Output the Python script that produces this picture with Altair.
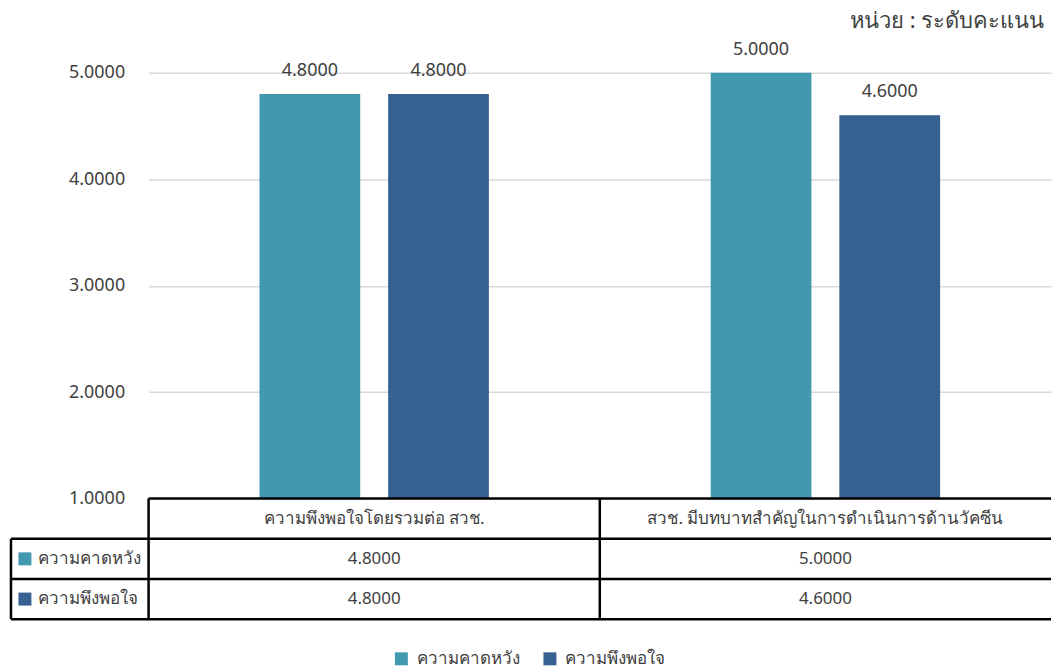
import altair as alt
import pandas as pd

categories = ["ความพึงพอใจโดยรวมต่อ สวช.", "สวช. มีบทบาทสำคัญในการดำเนินการด้านวัคซีน"]
series_names = ["ความคาดหวัง", "ความพึงพอใจ"]
expect_vals = [4.8, 5.0]
satisf_vals = [4.8, 4.6]
colors = ["#4298AE", "#36608F"]
y_ticks = [1, 2, 3, 4, 5]
unit_title = "หน่วย : ระดับคะแนน"
header_key = "หัวตาราง"

rows = []
for i, c in enumerate(categories):
    rows.append({"cat": c, "series": series_names[0], "value": expect_vals[i]})
    rows.append({"cat": c, "series": series_names[1], "value": satisf_vals[i]})
df = pd.DataFrame(rows)
df["label"] = df["value"].map(lambda v: f"{v:.4f}")
df["row"] = df["series"]

FONT = "Noto Sans"
TXT = "#404040"
W = 905
H_TOP = 427
H_TAB = 121

x_scale = alt.Scale(domain=categories, paddingInner=0, paddingOuter=0)
xo_scale = alt.Scale(domain=series_names, paddingInner=0.217, paddingOuter=0.862)
color_scale = alt.Scale(domain=series_names, range=colors)
y_scale = alt.Scale(domain=[1, 5], nice=False, zero=False)

base = alt.Chart(df)
bars = base.mark_bar().encode(
    x=alt.X("cat:N", scale=x_scale, axis=None),
    xOffset=alt.XOffset("series:N", scale=xo_scale),
    y=alt.Y("value:Q", scale=y_scale,
            axis=alt.Axis(values=y_ticks, format=".4f", domain=False, ticks=False,
                          grid=True, gridColor="#D9D9D9", gridWidth=1.5,
                          labelFontSize=18, labelColor=TXT, labelFont=FONT,
                          labelPadding=24, title=None)),
    y2=alt.datum(1),
    color=alt.Color("series:N", scale=color_scale,
                    legend=alt.Legend(title=None, orient="none", direction="horizontal",
                                      legendX=245, legendY=579,
                                      symbolType="square", symbolSize=169,
                                      symbolStrokeWidth=0, labelFontSize=17,
                                      labelFont=FONT, labelColor=TXT,
                                      labelOffset=7, columnPadding=22)),
)
labels = base.mark_text(fontSize=18, font=FONT, color=TXT, dy=-18, baseline="alphabetic").encode(
    x=alt.X("cat:N", scale=x_scale, axis=None),
    xOffset=alt.XOffset("series:N", scale=xo_scale),
    y=alt.Y("value:Q", scale=y_scale),
    text="label:N",
)
top = alt.layer(bars, labels).properties(width=W, height=H_TOP)

# ---- data table ----
row_domain = [header_key] + series_names
row_scale = alt.Scale(domain=row_domain, paddingInner=0, paddingOuter=0)
hdr_df = pd.DataFrame({"cat": categories, "row": [header_key] * len(categories), "label": categories})
cat_df = pd.DataFrame({"cat": categories})
ser_df = pd.DataFrame({"row": series_names, "series": series_names})

STROKE = 2.5
vlines = alt.Chart(cat_df).mark_rule(color="black", strokeWidth=STROKE).encode(
    x=alt.X("cat:N", scale=x_scale, axis=None, bandPosition=0),
    y=alt.value(0), y2=alt.value(H_TAB),
)
left_vline = alt.Chart(ser_df.head(1)).mark_rule(color="black", strokeWidth=STROKE).encode(
    x=alt.value(-138),
    y=alt.Y("row:N", scale=row_scale, axis=None, bandPosition=0),
    y2=alt.value(H_TAB),
)
hdr_top = alt.Chart(hdr_df.head(1)).mark_rule(color="black", strokeWidth=STROKE).encode(
    x=alt.value(0), x2=alt.value(W), y=alt.value(0),
)
row_tops = alt.Chart(ser_df).mark_rule(color="black", strokeWidth=STROKE).encode(
    x=alt.value(-138), x2=alt.value(W),
    y=alt.Y("row:N", scale=row_scale, axis=None, bandPosition=0),
)
bottom_line = alt.Chart(ser_df.head(1)).mark_rule(color="black", strokeWidth=STROKE).encode(
    x=alt.value(-138), x2=alt.value(W), y=alt.value(H_TAB),
)
hdr_text = alt.Chart(hdr_df).mark_text(fontSize=17, font=FONT, color=TXT).encode(
    x=alt.X("cat:N", scale=x_scale, axis=None),
    y=alt.Y("row:N", scale=row_scale, axis=None),
    text="label:N",
)
val_text = alt.Chart(df).mark_text(fontSize=17, font=FONT, color=TXT).encode(
    x=alt.X("cat:N", scale=x_scale, axis=None),
    y=alt.Y("row:N", scale=row_scale, axis=None),
    text="label:N",
)
row_squares = alt.Chart(ser_df).mark_square(size=169, opacity=1).encode(
    x=alt.value(-124),
    y=alt.Y("row:N", scale=row_scale, axis=None),
    color=alt.Color("series:N", scale=color_scale, legend=None),
)
row_text = alt.Chart(ser_df).mark_text(fontSize=17, font=FONT, color=TXT, align="left").encode(
    x=alt.value(-111),
    y=alt.Y("row:N", scale=row_scale, axis=None),
    text="series:N",
)
table = alt.layer(vlines, left_vline, hdr_top, row_tops, bottom_line,
                  hdr_text, val_text, row_squares, row_text).properties(width=W, height=H_TAB)

chart = alt.vconcat(top, table, spacing=0, bounds="flush").properties(
    title=alt.TitleParams(unit_title, anchor="end", fontSize=22, font=FONT,
                          fontWeight="normal", color=TXT, dx=-8, dy=-4),
    padding={"left": 9, "top": 9, "right": 0, "bottom": 0},
).configure_view(stroke=None).configure_concat(spacing=0).configure_title(fontWeight="normal")

chart.save("out.html", embed_options={"renderer": "svg", "actions": False})
